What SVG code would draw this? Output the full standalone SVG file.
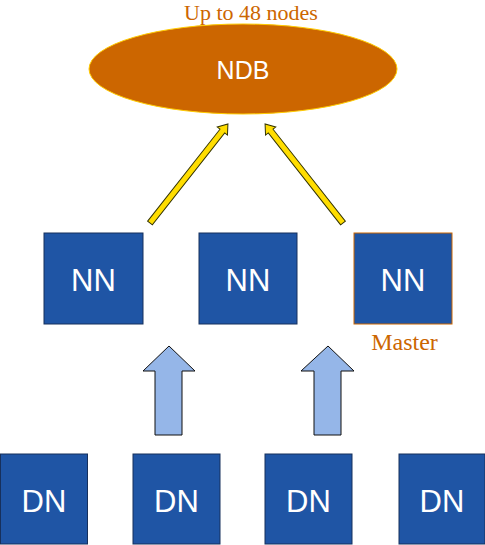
<svg xmlns="http://www.w3.org/2000/svg" width="485" height="545" viewBox="0 0 485 545">
<style>
.box{fill:#1f55a5;stroke:#17305c;stroke-width:1}
.lbl{font-family:"Liberation Sans",Arial,sans-serif;font-size:31px;fill:#ffffff;text-anchor:middle}
.note{font-family:"Liberation Serif","Times New Roman",serif;font-size:24px;fill:#cc6600;text-anchor:middle}
.yarrow{fill:#ffdd00;stroke:#333300;stroke-width:1}
.barrow{fill:#95b6e8;stroke:#111111;stroke-width:1}
</style>
<rect width="485" height="545" fill="#ffffff"/>
<g id="ndb">
<ellipse cx="243" cy="69" rx="154" ry="45" fill="#cc6600" stroke="#ffcc00" stroke-width="1"/>
<text x="243" y="79" font-family="Liberation Sans,Arial,sans-serif" font-size="25" fill="#ffffff" text-anchor="middle">NDB</text>
</g>
<text class="note" x="251" y="20" style="font-size:22px">Up to 48 nodes</text>
<g id="nn1"><rect class="box" x="44" y="233" width="99" height="91"/><text class="lbl" x="93.5" y="290.5">NN</text></g>
<g id="nn2"><rect class="box" x="199" y="233" width="98" height="91"/><text class="lbl" x="248" y="290.5">NN</text></g>
<g id="nn3"><rect class="box" x="354" y="233" width="98" height="91" style="stroke:#cc6600"/><text class="lbl" x="403" y="290.5">NN</text><text class="note" x="404.5" y="350">Master</text></g>
<g id="dn1"><rect class="box" x="0.5" y="454" width="87" height="90"/><text class="lbl" x="44" y="511.5">DN</text></g>
<g id="dn2"><rect class="box" x="133" y="454" width="87" height="90"/><text class="lbl" x="176.5" y="511.5">DN</text></g>
<g id="dn3"><rect class="box" x="265" y="454" width="87" height="90"/><text class="lbl" x="308.5" y="511.5">DN</text></g>
<g id="dn4"><rect class="box" x="399" y="454" width="86" height="90"/><text class="lbl" x="442" y="511.5">DN</text></g>
<g id="connectors">
<polygon class="yarrow" transform="translate(150,223) rotate(-51.8)" points="0,-3 117,-3 117,-6.5 126,0 117,6.5 117,3 0,3"/>
<polygon class="yarrow" transform="translate(343,223) rotate(-128.2)" points="0,-3 117,-3 117,-6.5 126,0 117,6.5 117,3 0,3"/>
<polygon class="barrow" points="155,435 155,371 143,371 169,346 195,371 182,371 182,435"/>
<polygon class="barrow" points="314,435 314,371 301,371 328,346 354,371 341,371 341,435"/>
</g>
</svg>
